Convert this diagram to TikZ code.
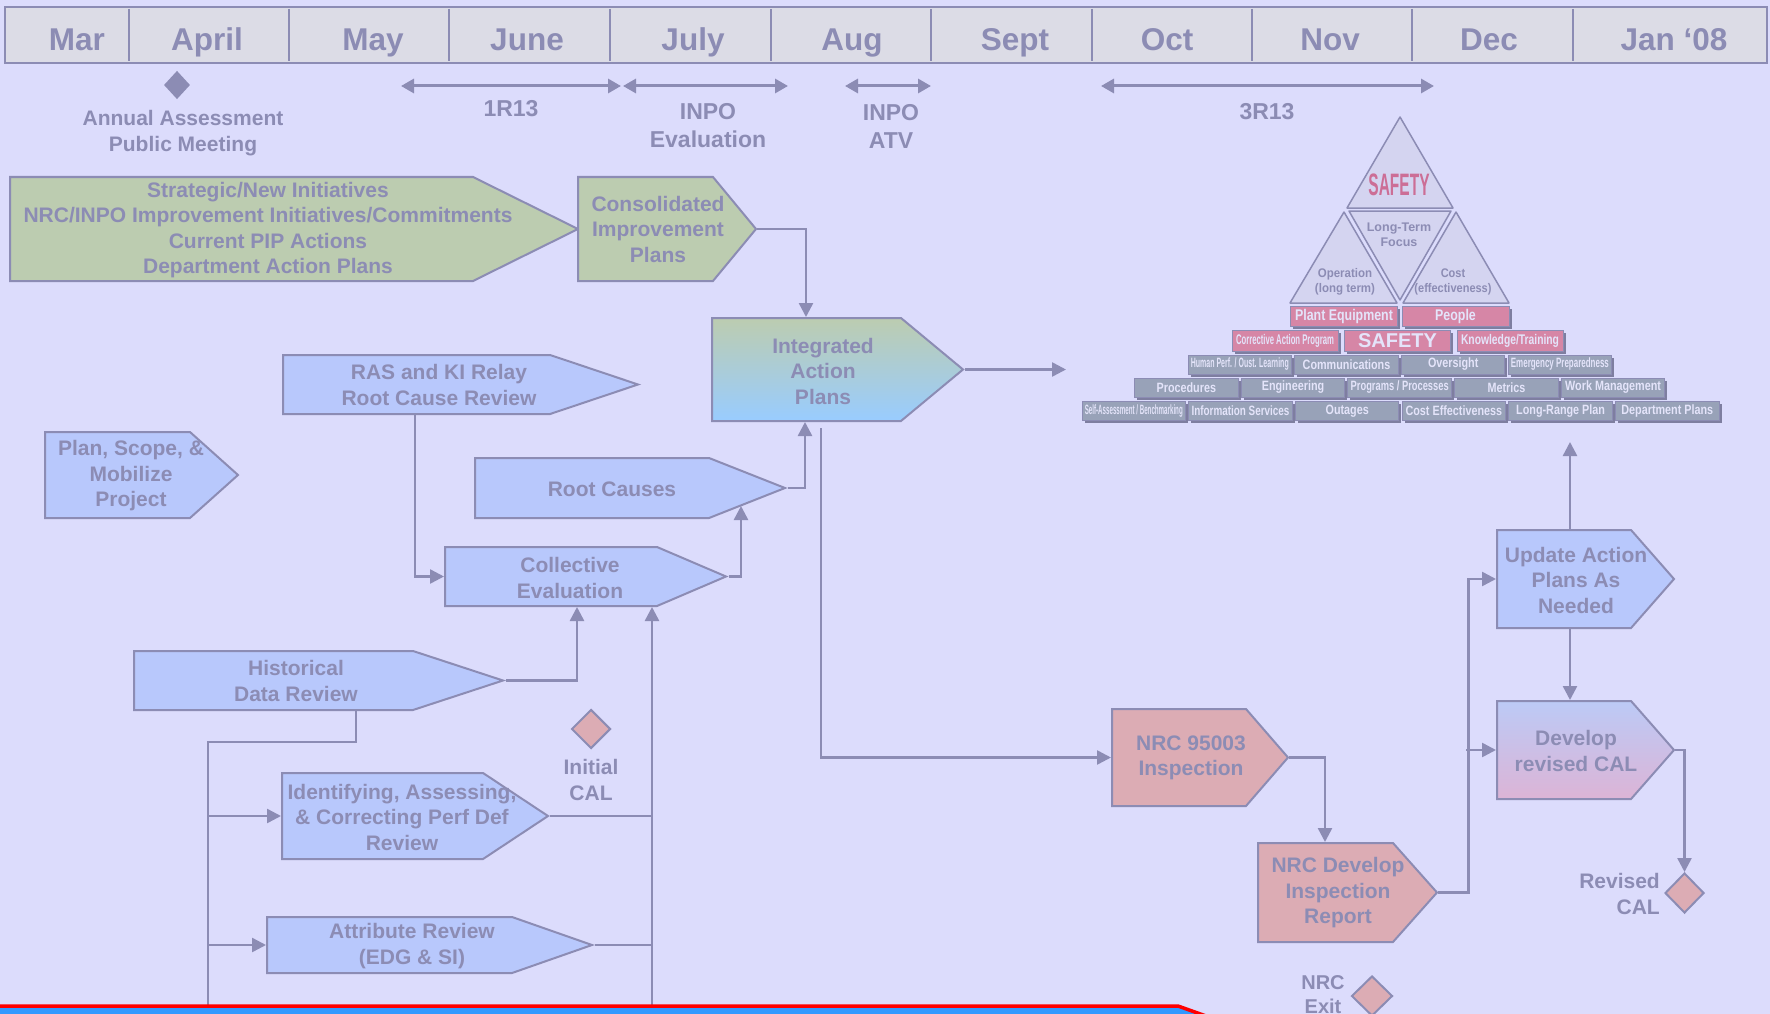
\documentclass[tikz,border=0pt]{standalone}
\usepackage{fontspec}
\setmainfont{Liberation Sans}
\usepackage{graphicx}
\usetikzlibrary{shapes.symbols, shapes.geometric, arrows.meta, shadows}

\definecolor{bgcol}{RGB}{220,220,252}
\definecolor{linecol}{RGB}{140,140,180}
\definecolor{monthfill}{RGB}{220,220,230}
\definecolor{greenfill}{RGB}{188,204,176}
\definecolor{bluefill}{RGB}{184,200,252}
\definecolor{skyfill}{RGB}{153,204,255}
\definecolor{pinkfill}{RGB}{220,172,180}
\definecolor{lilacfill}{RGB}{188,202,246}
\definecolor{mauvefill}{RGB}{220,180,214}
\definecolor{brickfill}{RGB}{152,162,184}
\definecolor{brickpink}{RGB}{214,134,166}
\definecolor{brickshade}{RGB}{126,126,160}
\definecolor{bricktext}{RGB}{228,228,250}
\definecolor{trifill}{RGB}{212,212,240}
\definecolor{safetypink}{RGB}{204,110,150}
\definecolor{bandblue}{RGB}{51,153,255}
\definecolor{bandred}{RGB}{255,0,0}

% squeeze brick labels so they fit their box
\newsavebox\sqbox
\newcommand\squeeze[1]{\sbox\sqbox{\scalebox{0.8}[1]{#1}}%
  \ifdim\wd\sqbox>98pt\resizebox{98pt}{\height}{\usebox\sqbox}\else\usebox\sqbox\fi}
\newcommand\narrow[2]{\scalebox{#1}[1]{\begin{tabular}{@{}c@{}}#2\end{tabular}}}

\tikzset{
  chev/.style={signal, signal to=east, signal from=nowhere, draw=linecol, line width=2pt, inner sep=0pt, anchor=west},
  txt/.style={text=linecol, font=\fontsize{21}{25.5}\selectfont\bfseries, align=center, inner sep=0pt},
  tl/.style={txt, font=\fontsize{23}{28}\selectfont\bfseries},
  month/.style={text=linecol, font=\fontsize{31.5}{36}\selectfont\bfseries, anchor=base, inner sep=0pt},
  link/.style={draw=linecol, line width=2.5pt},
  flow/.style={link, -{Triangle[length=14pt,width=14pt]}},
  period/.style={draw=linecol, line width=3pt, {Triangle[length=13pt,width=14pt]}-{Triangle[length=13pt,width=14pt]}},
  milestone/.style={diamond, draw=linecol, line width=2pt, fill=pinkfill, inner sep=0pt, minimum width=39pt, minimum height=39pt},
  tri/.style={draw=linecol, line width=1.5pt, fill=trifill, line join=round},
  trilabel/.style={text=linecol, font=\fontsize{12.5}{14.5}\selectfont\bfseries, inner sep=0pt},
  brick/.style={draw=linecol, line width=1pt, fill=brickfill, text=bricktext, inner sep=0pt,
    minimum width=103.5pt, minimum height=19pt, font=\fontsize{13.5}{15}\selectfont\bfseries,
    drop shadow={shadow xshift=2.5pt, shadow yshift=-2.5pt, fill=brickshade, opacity=1}},
}

\begin{document}
\begin{tikzpicture}[x=1pt, y=-1pt]
\useasboundingbox (0,0) rectangle (1770,1014);
\fill[bgcol] (0,0) rectangle (1770,1014);

% month bar
\draw[line width=2pt, draw=linecol, fill=monthfill] (5,7) rectangle (1767,63);
\foreach \x in {129,289,449,610,771,931,1092,1252,1412,1573}
  \draw[linecol, line width=1.5pt] (\x,9) -- (\x,61);
\foreach \m/\x [count=\i] in {Mar/77, April/207, May/373, June/527, July/693, Aug/852, Sept/1015, Oct/1167, Nov/1330, Dec/1489, Jan ‘08/1674}
  \node[month] (mon\i) at (\x,51) {\m};

% milestones and outages on the time line
\node[milestone, fill=linecol, minimum width=24pt, minimum height=26pt] (annual) at (177,85) {};
\node[txt] (annual-t) at (183,133) {Annual Assessment\\Public Meeting};
\foreach \a/\b in {401/621, 623/788, 845/931, 1101/1434}
  \draw[period] (\a,86) -- (\b,86);
\node[tl] (r1-t) at (511,109) {1R13};
\node[tl] (eval-t) at (708,126) {INPO\\Evaluation};
\node[tl] (atv-t) at (891,126) {INPO\\ATV};
\node[tl] (r3-t) at (1267,112) {3R13};

% process boxes
\node[chev, fill=greenfill, minimum width=568pt, minimum height=104pt, signal pointer angle=52.7] (strat) at (9,229) {};
\node[txt] (strat-t) at (268,230) {Strategic/New Initiatives\\NRC/INPO Improvement Initiatives/Commitments\\Current PIP Actions\\Department Action Plans};
\node[chev, fill=greenfill, minimum width=178pt, minimum height=104pt, signal pointer angle=100.8] (consol) at (577,229) {};
\node[txt] (consol-t) at (658,229) {Consolidated\\Improvement\\Plans};
\node[chev, top color=greenfill, bottom color=skyfill, minimum width=251pt, minimum height=103pt, signal pointer angle=79.4] (integ) at (711,369.5) {};
\node[txt] (integ-t) at (823,371) {Integrated\\Action\\Plans};
\node[chev, fill=bluefill, minimum width=355pt, minimum height=59pt, signal pointer angle=37.1] (ras) at (282,384.5) {};
\node[txt] (ras-t) at (439,385) {RAS and KI Relay\\Root Cause Review};
\node[chev, fill=bluefill, minimum width=193pt, minimum height=86pt, signal pointer angle=83.7] (plan) at (44,475) {};
\node[txt] (plan-t) at (131,476) {Plan, Scope, \&\\Mobilize\\Project};
\node[chev, fill=bluefill, minimum width=310pt, minimum height=60pt, signal pointer angle=43.1] (root) at (474,488) {};
\node[txt] (root-t) at (612,489) {Root Causes};
\node[chev, fill=bluefill, minimum width=281pt, minimum height=59pt, signal pointer angle=46.3] (coll) at (444,576.5) {};
\node[txt] (coll-t) at (570,578) {Collective\\Evaluation};
\node[chev, fill=bluefill, minimum width=369pt, minimum height=59pt, signal pointer angle=36.3] (hist) at (133,680.5) {};
\node[txt] (hist-t) at (296,681) {Historical\\Data Review};
\node[chev, fill=bluefill, minimum width=266pt, minimum height=86pt, signal pointer angle=67] (ident) at (281,816) {};
\node[txt] (ident-t) at (402,817) {Identifying, Assessing,\\\& Correcting Perf Def\\Review};
\node[chev, fill=bluefill, minimum width=325pt, minimum height=56pt, signal pointer angle=38.6] (attr) at (266,945) {};
\node[txt] (attr-t) at (412,946) {Attribute Review\\(EDG \& SI)};
\node[chev, fill=pinkfill, minimum width=176pt, minimum height=97pt, signal pointer angle=98.2] (nrc95) at (1111,757.5) {};
\node[txt] (nrc95-t) at (1191,758) {NRC 95003\\Inspection};
\node[chev, fill=pinkfill, minimum width=179pt, minimum height=99pt, signal pointer angle=96.7] (nrcdev) at (1257,892.5) {};
\node[txt] (nrcdev-t) at (1338,893) {NRC Develop\\Inspection\\Report};
\node[chev, fill=bluefill, minimum width=177pt, minimum height=98pt, signal pointer angle=97.5] (update) at (1496,579) {};
\node[txt] (update-t) at (1576,580) {Update Action\\Plans As\\Needed};
\node[chev, top color=lilacfill, bottom color=mauvefill, minimum width=177pt, minimum height=98pt, signal pointer angle=97.5] (devcal) at (1496,750) {};
\node[txt] (devcal-t) at (1576,751) {Develop\\revised CAL};

% CAL milestones
\node[milestone] (icall) at (591,729) {};
\node[txt] (icall-t) at (591,780) {Initial\\CAL};
\node[milestone, minimum height=40pt] (rcal) at (1684.5,893) {};
\node[txt, align=right, anchor=east] (rcal-t) at (1660,894) {Revised\\CAL};
\node[milestone, minimum width=41pt, minimum height=40pt] (nexit) at (1372,996) {};
\node[txt, font=\fontsize{20}{24}\selectfont\bfseries] (nexit-t) at (1323,995) {NRC\\Exit};

% pyramid
\draw[tri] (1400,117) -- (1347,208) -- (1453,208) -- cycle;
\draw[tri] (1349,211) -- (1451,211) -- (1400,300) -- cycle;
\draw[tri] (1344,212) -- (1290,303) -- (1397,303) -- cycle;
\draw[tri] (1456,212) -- (1403,303) -- (1509,303) -- cycle;
\node[trilabel, text=safetypink, font=\fontsize{31}{32}\selectfont\bfseries] (top-safety) at (1399,185) {\scalebox{0.5}[1]{SAFETY}};
\node[trilabel] (focus) at (1399,236) {\narrow{1}{Long-Term\\Focus}};
\node[trilabel] (oper) at (1345,282) {\narrow{0.92}{Operation\\(long term)}};
\node[trilabel] (cost) at (1453,282) {\narrow{0.88}{Cost\\(effectiveness)}};

\node[brick, fill=brickpink, minimum width=107pt, minimum height=20pt, font=\fontsize{15.5}{17}\selectfont\bfseries] (plant) at (1344,316) {\squeeze{Plant Equipment}};
\node[brick, fill=brickpink, minimum width=107pt, minimum height=20pt, font=\fontsize{15.5}{17}\selectfont\bfseries] (people) at (1455.5,316) {\squeeze{People}};
\node[brick, fill=brickpink, minimum width=106pt, minimum height=21pt, font=\fontsize{14}{15}\selectfont\bfseries] (cap) at (1285,340.5) {\squeeze{Corrective Action Program}};
\node[brick, fill=brickpink, minimum width=106pt, minimum height=21pt, font=\fontsize{20}{22}\selectfont\bfseries] (safety) at (1397.5,340.5) {SAFETY};
\node[brick, fill=brickpink, minimum width=106pt, minimum height=21pt, font=\fontsize{14}{15}\selectfont\bfseries] (know) at (1510,340.5) {\squeeze{Knowledge/Training}};
\foreach \t [count=\i] in {{Human Perf. / Oust. Learning}, Communications, Oversight, {Emergency Preparedness}}
  \node[brick] (rowc\i) at ({1133.1+\i*106.7},364.5) {\squeeze{\t}};
\foreach \t [count=\i] in {Procedures, Engineering, {Programs / Processes}, Metrics, {Work Management}}
  \node[brick] (rowd\i) at ({1079.6+\i*106.7},387.5) {\squeeze{\t}};
\foreach \t [count=\i] in {{Self-Assessment / Benchmarking}, {Information Services}, Outages, {Cost Effectiveness}, {Long-Range Plan}, {Department Plans}}
  \node[brick] (rowe\i) at ({1027.1+\i*106.7},411) {\squeeze{\t}};

% free ends
\coordinate (pyr-in) at (1066,369.5);
\coordinate (pyr-out) at (1570,442);
\coordinate (trunkL) at (208,1005);
\coordinate (trunkR) at (652,1005);

% connectors
\draw[flow] (consol.east) -| ([xshift=95pt]integ.north west);
\draw[flow] (integ.east) -- (pyr-in);
\draw[flow] (root.east) -| ([xshift=94pt]integ.south west);
\draw[flow] ([xshift=110pt,yshift=-6pt]integ.south west) |- (nrc95.west);
\draw[flow] ([xshift=133pt]ras.south west) |- (coll.west);
\draw[flow] (coll.east) -| ([xshift=267pt,yshift=13pt]root.south west);
\draw[flow] (hist.east) -| ([xshift=133pt]coll.south west);
\draw[flow] (trunkR) -- ([xshift=208pt]coll.south west);
\draw[link] (ident.east) -- (trunkR |- ident.east);
\draw[link] (attr.east) -- (trunkR |- attr.east);
\draw[link] ([xshift=223pt]hist.south west) -- ++(0,31) -| (trunkL);
\draw[flow] (trunkL |- ident.west) -- (ident.west);
\draw[flow] (trunkL |- attr.west) -- (attr.west);
\draw[flow] (nrc95.east) -| ([xshift=68pt]nrcdev.north west);
\draw[flow] (nrcdev.east) -- ++(30,0) |- (update.west);
\draw[flow] ([xshift=-30pt]devcal.west) -- (devcal.west);
\draw[flow] ([xshift=74pt]update.north west) -- (pyr-out);
\draw[flow] ([xshift=74pt]update.south west) -- ([xshift=74pt]devcal.north west);
\draw[flow] (devcal.east) -| (rcal.north);

% bottom band
\fill[bandblue] (0,1008) -- (1180,1008) -- (1204,1014) -- (0,1014) -- cycle;
\draw[bandred, line width=3.5pt] (0,1006) -- (1178,1006) -- (1206,1016);
\end{tikzpicture}
\end{document}
